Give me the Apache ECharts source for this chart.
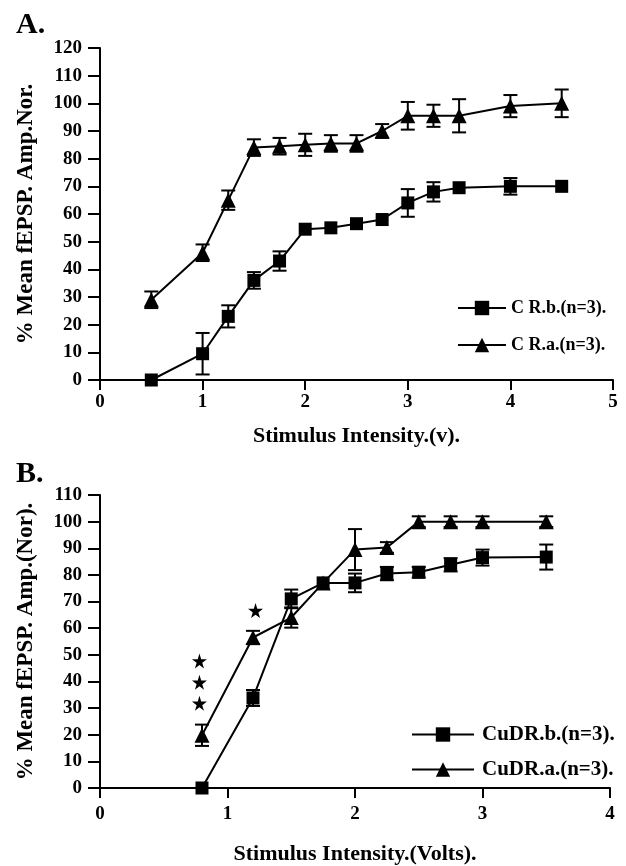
<!DOCTYPE html>
<html>
<head>
<meta charset="utf-8">
<script src="https://cdn.jsdelivr.net/npm/echarts@6/dist/echarts.min.js"></script>
<style>
  html, body { margin: 0; padding: 0; background: #fff; }
  #container { width: 626px; height: 866px; }
</style>
</head>
<body>
<div id="container"></div>
<script>
// panel A
var xA = [0.5, 1, 1.25, 1.5, 1.75, 2, 2.25, 2.5, 2.75, 3, 3.25, 3.5, 4, 4.5];
var crbMean = [0, 9.5, 23, 36, 43, 54.5, 55, 56.5, 58, 64, 68, 69.5, 70, 70];
var crbErr = [0, 7.5, 4, 3, 3.5, 0, 0, 0, 0, 5, 3.5, 0, 3, 0];
var craMean = [29, 46, 65, 84, 84.5, 85, 85.5, 85.5, 90, 95.5, 95.5, 95.5, 99, 100];
var craErr = [3, 3, 3.5, 3, 3, 4, 3, 3, 2.5, 5, 4, 6, 4, 5];

// panel B
var xB = [0.8, 1.2, 1.5, 1.75, 2, 2.25, 2.5, 2.75, 3, 3.5];
var cubMean = [0, 33.8, 71, 77, 77, 80.5, 81, 83.8, 86.5, 86.7];
var cubErr = [0, 3, 3.5, 0, 3.5, 2.5, 2, 2.5, 3, 4.7];
var cuaMean = [19.8, 56.5, 64, 77, 89.5, 90.3, 100, 100, 100, 100];
var cuaErr = [4, 2.5, 3.8, 0, 7.7, 2, 2, 2, 2, 2];
var starX = [0.78, 0.78, 0.78, 1.22];
var starY = [47.7, 39.7, 31.8, 66.6];

var dom = document.getElementById("container");
var myChart = echarts.init(dom);

var FONT = 'Liberation Serif';
var STAR = 'path://M50,0 L61,35 L98,35 L68,57 L79,91 L50,70 L21,91 L32,57 L2,35 L39,35 Z';

function pairs(xs, ys) {
    return xs.map(function (x, i) { return [x, ys[i]]; });
}
function triples(xs, ys, es) {
    var out = [];
    xs.forEach(function (x, i) {
        if (es[i] > 0) out.push([x, ys[i], es[i]]);
    });
    return out;
}

// error bars with caps
function errorBar(params, api) {
    var x = api.value(0), y = api.value(1), e = api.value(2);
    var hi = api.coord([x, y + e]);
    var lo = api.coord([x, y - e]);
    var hw = 7;
    var st = { stroke: '#000', lineWidth: 2 };
    return {
        type: 'group',
        children: [
            { type: 'line', shape: { x1: hi[0], y1: hi[1], x2: lo[0], y2: lo[1] }, style: st },
            { type: 'line', shape: { x1: hi[0] - hw, y1: hi[1], x2: hi[0] + hw, y2: hi[1] }, style: st },
            { type: 'line', shape: { x1: lo[0] - hw, y1: lo[1], x2: lo[0] + hw, y2: lo[1] }, style: st }
        ]
    };
}

function xAxisCfg(idx, max, name, gap, margin) {
    return {
        type: 'value', gridIndex: idx, min: 0, max: max, interval: 1,
        name: name, nameLocation: 'middle', nameGap: gap,
        nameTextStyle: { fontFamily: FONT, fontWeight: 'bold', fontSize: 22, color: '#000' },
        axisLine: { lineStyle: { color: '#000', width: 2 } },
        axisTick: { length: 10, lineStyle: { color: '#000', width: 2 } },
        axisLabel: { fontFamily: FONT, fontWeight: 'bold', fontSize: 19, color: '#000', margin: margin },
        splitLine: { show: false }
    };
}
function yAxisCfg(idx, max, name) {
    return {
        type: 'value', gridIndex: idx, min: 0, max: max, interval: 10,
        name: name, nameLocation: 'middle', nameGap: 62, nameRotate: 90,
        nameTextStyle: { fontFamily: FONT, fontWeight: 'bold', fontSize: 23, color: '#000' },
        axisLine: { show: true, lineStyle: { color: '#000', width: 2 } },
        axisTick: { show: true, length: 12, lineStyle: { color: '#000', width: 2 } },
        axisLabel: { fontFamily: FONT, fontWeight: 'bold', fontSize: 19, color: '#000', margin: 18 },
        splitLine: { show: false }
    };
}

function lineSeries(name, idx, xs, ys, sym, size) {
    return {
        name: name, type: 'line', xAxisIndex: idx, yAxisIndex: idx,
        data: pairs(xs, ys),
        symbol: sym, symbolSize: size,
        itemStyle: { color: '#000' },
        lineStyle: { color: '#000', width: 2 },
        z: 3
    };
}
function errSeries(idx, xs, ys, es) {
    return {
        type: 'custom', xAxisIndex: idx, yAxisIndex: idx,
        renderItem: errorBar, data: triples(xs, ys, es), z: 2
    };
}

option = {
    animation: false,
    backgroundColor: '#fff',
    title: [
        { text: 'A.', left: 11, top: 5, textStyle: { fontFamily: FONT, fontWeight: 'bold', fontSize: 30, color: '#000' } },
        { text: 'B.', left: 11, top: 454, textStyle: { fontFamily: FONT, fontWeight: 'bold', fontSize: 30, color: '#000' } }
    ],
    grid: [
        { left: 100, right: 13, top: 48, height: 332 },
        { left: 100, right: 16, top: 495, height: 300 }
    ],
    legend: [
        {
            data: ['C R.b.(n=3).', 'C R.a.(n=3).'],
            orient: 'vertical', left: 452, top: 294,
            itemWidth: 48, itemHeight: 18, itemGap: 19,
            textStyle: { fontFamily: FONT, fontWeight: 'bold', fontSize: 18, color: '#000', padding: [0, 0, 0, 0] }
        },
        {
            data: ['CuDR.b.(n=3).', 'CuDR.a.(n=3).'],
            orient: 'vertical', left: 406, top: 719,
            itemWidth: 62, itemHeight: 18, itemGap: 14,
            textStyle: { fontFamily: FONT, fontWeight: 'bold', fontSize: 21, color: '#000', padding: [0, 0, 0, 3] }
        }
    ],
    xAxis: [
        xAxisCfg(0, 5, 'Stimulus Intensity.(v).', 45, 13),
        xAxisCfg(1, 4, 'Stimulus Intensity.(Volts).', 55, 17)
    ],
    yAxis: [
        yAxisCfg(0, 120, '% Mean fEPSP. Amp.Nor.'),
        yAxisCfg(1, 110, '% Mean fEPSP. Amp.(Nor).')
    ],
    series: [
        errSeries(0, xA, crbMean, crbErr),
        errSeries(0, xA, craMean, craErr),
        lineSeries('C R.b.(n=3).', 0, xA, crbMean, 'rect', 13),
        lineSeries('C R.a.(n=3).', 0, xA, craMean, 'triangle', 15),
        errSeries(1, xB, cubMean, cubErr),
        errSeries(1, xB, cuaMean, cuaErr),
        lineSeries('CuDR.b.(n=3).', 1, xB, cubMean, 'rect', 13),
        lineSeries('CuDR.a.(n=3).', 1, xB, cuaMean, 'triangle', 15),
        {
            type: 'scatter', xAxisIndex: 1, yAxisIndex: 1,
            data: pairs(starX, starY),
            symbol: STAR, symbolSize: 15,
            itemStyle: { color: '#000', opacity: 1 }
        }
    ]
};
myChart.setOption(option, true);
</script>
</body>
</html>
